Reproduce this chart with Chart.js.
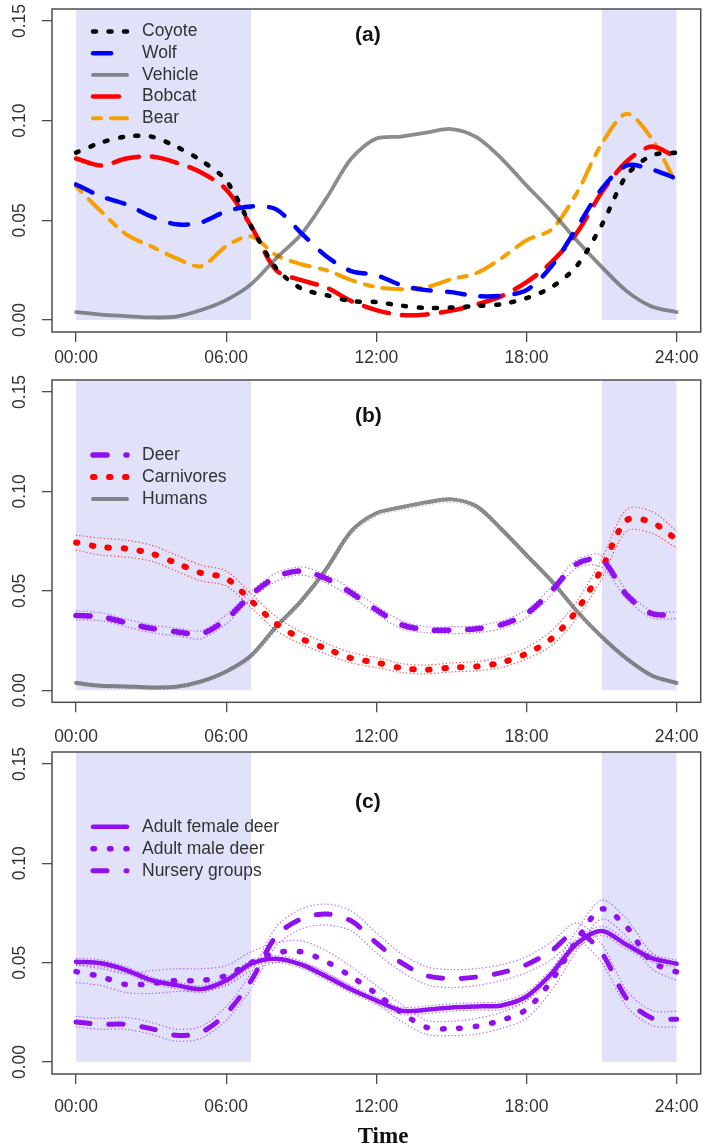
<!DOCTYPE html>
<html>
<head>
<meta charset="utf-8">
<script src="https://cdn.jsdelivr.net/npm/chart.js@4.4.1/dist/chart.umd.min.js"></script>
<style>
  body { margin: 0; background: #fff; width: 709px; height: 1146px; overflow: hidden; position: relative; }
  canvas { position: absolute; left: 0; }
</style>
</head>
<body>
<canvas id="panelA" width="709" height="372" style="top:0px"></canvas>
<canvas id="panelB" width="709" height="372" style="top:371px"></canvas>
<canvas id="panelC" width="709" height="403" style="top:743px"></canvas>
<script>
// ---- axes ----
const HOURS = [0, 1, 2, 3, 4, 5, 6, 7, 8, 9, 10, 11, 12, 13, 14, 15, 16, 17, 18, 19, 20, 21, 22, 23, 24];
const X_TICKS = [0, 6, 12, 18, 24];
const X_TICK_LABELS = ['00:00', '06:00', '12:00', '18:00', '24:00'];
const Y_TICKS = [0, 0.05, 0.10, 0.15];
const Y_TICK_LABELS = ['0.00', '0.05', '0.10', '0.15'];
const X_MIN = -0.96, X_MAX = 24.96;
const Y_MIN = -0.006, Y_MAX = 0.156;

// night (shaded) periods, hours
const NIGHT_START = [0, 21];
const NIGHT_END = [7, 24];

// ---- (a) species + vehicles ----
const COYOTE  = [0.084, 0.089, 0.092, 0.092, 0.087, 0.080, 0.070, 0.047, 0.026, 0.0158, 0.0125, 0.0095, 0.009, 0.0072, 0.006, 0.0063, 0.007, 0.008, 0.011, 0.0165, 0.027, 0.0475, 0.0725, 0.0825, 0.084];
const WOLF    = [0.068, 0.062, 0.058, 0.052, 0.048, 0.049, 0.0545, 0.057, 0.0555, 0.0436, 0.032, 0.0245, 0.0225, 0.0175, 0.015, 0.014, 0.012, 0.0122, 0.015, 0.027, 0.046, 0.0657, 0.0775, 0.0755, 0.071];
const VEHICLE = [0.004, 0.0027, 0.002, 0.0013, 0.0017, 0.005, 0.010, 0.018, 0.031, 0.043, 0.061, 0.081, 0.091, 0.092, 0.094, 0.0958, 0.0917, 0.081, 0.0675, 0.0545, 0.040, 0.0267, 0.0145, 0.0068, 0.004];
const BOBCAT  = [0.081, 0.0775, 0.081, 0.082, 0.079, 0.074, 0.0655, 0.047, 0.025, 0.020, 0.0163, 0.0095, 0.005, 0.0025, 0.0028, 0.0047, 0.0078, 0.012, 0.019, 0.029, 0.0435, 0.064, 0.0795, 0.087, 0.0815];
const BEAR    = [0.067, 0.0545, 0.043, 0.037, 0.031, 0.027, 0.037, 0.042, 0.0325, 0.028, 0.025, 0.020, 0.0165, 0.0155, 0.0165, 0.0205, 0.0235, 0.031, 0.040, 0.0455, 0.0635, 0.0883, 0.1035, 0.091, 0.068];

// ---- (b) deer / carnivores / humans with CI ----
const DEER       = [0.0376, 0.037, 0.034, 0.0312, 0.0295, 0.0284, 0.0357, 0.048, 0.057, 0.060, 0.0562, 0.049, 0.0405, 0.033, 0.0305, 0.0302, 0.031, 0.033, 0.0385, 0.050, 0.0635, 0.0655, 0.048, 0.0386, 0.038];
const DEER_HI    = [0.040, 0.039, 0.0358, 0.033, 0.0313, 0.030, 0.038, 0.050, 0.059, 0.062, 0.058, 0.051, 0.0425, 0.035, 0.032, 0.032, 0.0325, 0.035, 0.0405, 0.052, 0.0655, 0.068, 0.050, 0.040, 0.0395];
const DEER_LO    = [0.0355, 0.035, 0.032, 0.029, 0.0275, 0.026, 0.0335, 0.046, 0.0548, 0.058, 0.054, 0.047, 0.0385, 0.031, 0.029, 0.0285, 0.029, 0.031, 0.0365, 0.048, 0.0615, 0.062, 0.046, 0.0365, 0.036];
const CARNIVORES = [0.0743, 0.072, 0.0713, 0.0688, 0.064, 0.059, 0.0563, 0.045, 0.0335, 0.026, 0.021, 0.0162, 0.014, 0.0112, 0.0104, 0.0115, 0.012, 0.014, 0.0185, 0.026, 0.040, 0.061, 0.0855, 0.0845, 0.0758];
const CARN_HI    = [0.078, 0.0765, 0.0755, 0.073, 0.068, 0.063, 0.060, 0.0485, 0.037, 0.0293, 0.0237, 0.019, 0.0165, 0.0135, 0.0127, 0.0138, 0.0145, 0.0167, 0.0215, 0.030, 0.0445, 0.066, 0.091, 0.090, 0.080];
const CARN_LO    = [0.0705, 0.068, 0.067, 0.065, 0.060, 0.055, 0.0525, 0.0415, 0.030, 0.0232, 0.0182, 0.0138, 0.0115, 0.009, 0.0083, 0.0093, 0.0098, 0.0115, 0.0158, 0.0225, 0.036, 0.056, 0.080, 0.079, 0.0715];
const HUMANS     = [0.0037, 0.0023, 0.002, 0.0015, 0.0018, 0.0045, 0.0095, 0.0175, 0.032, 0.045, 0.061, 0.080, 0.089, 0.092, 0.0945, 0.096, 0.0925, 0.081, 0.068, 0.055, 0.040, 0.027, 0.016, 0.0075, 0.0037];
const HUMANS_HI  = [0.0043, 0.0029, 0.0026, 0.0021, 0.0024, 0.0051, 0.0101, 0.0182, 0.0328, 0.0458, 0.0618, 0.0808, 0.0898, 0.0928, 0.0953, 0.0968, 0.0933, 0.0818, 0.0688, 0.0558, 0.0408, 0.0278, 0.0168, 0.0081, 0.0043];
const HUMANS_LO  = [0.0027, 0.0013, 0.001, 0.0005, 0.0008, 0.0033, 0.0083, 0.016, 0.0302, 0.0435, 0.0595, 0.0785, 0.0875, 0.0905, 0.093, 0.0945, 0.0912, 0.0798, 0.0668, 0.0538, 0.0388, 0.0258, 0.0148, 0.0065, 0.0027];

// ---- (c) deer groups with CI ----
const FEMALE     = [0.0505, 0.0497, 0.0463, 0.0412, 0.0387, 0.0367, 0.041, 0.0495, 0.052, 0.049, 0.043, 0.0365, 0.031, 0.0258, 0.0263, 0.0275, 0.028, 0.0285, 0.033, 0.0445, 0.0595, 0.066, 0.059, 0.0523, 0.0495];
const FEMALE_HI  = [0.0522, 0.0514, 0.048, 0.0429, 0.0404, 0.0384, 0.0428, 0.0513, 0.0538, 0.0508, 0.0448, 0.0383, 0.0328, 0.0276, 0.0282, 0.0294, 0.0299, 0.0305, 0.0352, 0.0468, 0.0618, 0.0683, 0.0612, 0.0542, 0.0513];
const FEMALE_LO  = [0.0488, 0.048, 0.0446, 0.0395, 0.037, 0.035, 0.0392, 0.0477, 0.0502, 0.0472, 0.0412, 0.0347, 0.0292, 0.024, 0.0244, 0.0256, 0.0261, 0.0265, 0.0308, 0.0422, 0.0572, 0.0637, 0.0568, 0.0504, 0.0477];
const MALE       = [0.0455, 0.043, 0.039, 0.0395, 0.041, 0.041, 0.0435, 0.050, 0.055, 0.0555, 0.0505, 0.043, 0.0344, 0.025, 0.0175, 0.0168, 0.018, 0.021, 0.0265, 0.041, 0.061, 0.077, 0.068, 0.0505, 0.0453];
const MALE_HI    = [0.049, 0.047, 0.0445, 0.046, 0.047, 0.047, 0.0485, 0.0555, 0.060, 0.061, 0.056, 0.048, 0.0385, 0.029, 0.021, 0.0205, 0.022, 0.025, 0.031, 0.046, 0.066, 0.0815, 0.072, 0.055, 0.049];
const MALE_LO    = [0.040, 0.0385, 0.035, 0.0345, 0.0355, 0.036, 0.0385, 0.046, 0.050, 0.050, 0.045, 0.038, 0.0295, 0.0205, 0.014, 0.0133, 0.014, 0.017, 0.022, 0.036, 0.056, 0.072, 0.063, 0.047, 0.041];
const NURSERY    = [0.0202, 0.019, 0.019, 0.0168, 0.0135, 0.015, 0.0244, 0.041, 0.0635, 0.072, 0.0745, 0.071, 0.060, 0.050, 0.0435, 0.042, 0.0428, 0.045, 0.049, 0.056, 0.0655, 0.055, 0.032, 0.0222, 0.0215];
const NURSERY_HI = [0.023, 0.022, 0.0225, 0.020, 0.0165, 0.018, 0.028, 0.045, 0.068, 0.077, 0.0795, 0.076, 0.065, 0.0545, 0.048, 0.0465, 0.047, 0.049, 0.053, 0.0605, 0.070, 0.0595, 0.036, 0.026, 0.0255];
const NURSERY_LO = [0.0176, 0.0165, 0.0165, 0.014, 0.0105, 0.012, 0.021, 0.037, 0.0585, 0.067, 0.069, 0.066, 0.055, 0.0455, 0.039, 0.0375, 0.0385, 0.041, 0.045, 0.0515, 0.061, 0.050, 0.028, 0.0185, 0.0175];

// ---- styles ----
const FRAME = '#4d4d4d';
const TEXT = '#333';
const SHADE = '#e1e1fa';
const PURPLE = '#9010f0';
const CI_PURPLE = 'rgba(150,40,255,0.7)';
const GRAY = 'rgba(78,78,78,0.65)';
const SANS = '"Liberation Sans", Arial, sans-serif';

Chart.defaults.font.family = SANS;
Chart.defaults.color = TEXT;

function series(label, values, color, width, dash) {
  return {
    label: label,
    inLegend: true,
    data: HOURS.map((h, i) => ({ x: h, y: values[i] })),
    borderColor: color,
    borderWidth: width,
    borderDash: dash,
    borderCapStyle: 'round',
    pointRadius: 0,
    fill: false,
    tension: 0.3
  };
}

function ciLine(values, color) {
  return {
    inLegend: false,
    data: HOURS.map((h, i) => ({ x: h, y: values[i] })),
    borderColor: color,
    borderWidth: 1.2,
    borderDash: [1.3, 2.2],
    pointRadius: 0,
    fill: false,
    tension: 0.3,
    order: 1
  };
}

function nightBands() {
  return NIGHT_START.map((s, i) => ({
    inLegend: false,
    data: [{ x: s, y: Y_MAX }, { x: NIGHT_END[i], y: Y_MAX }],
    borderColor: 'rgba(0,0,0,0)',
    backgroundColor: SHADE,
    pointRadius: 0,
    fill: { value: 0 },
    order: 10
  }));
}

// frame, legend, panel tag and x title drawn in the R style
const rDecor = {
  id: 'rDecor',
  afterDatasetsDraw(chart, args, o) {
    const ctx = chart.ctx;
    const a = chart.chartArea;
    ctx.save();
    ctx.setLineDash([]);
    ctx.strokeStyle = FRAME;
    ctx.lineWidth = 1.5;
    ctx.strokeRect(a.left, a.top, a.right - a.left, a.bottom - a.top);

    chart.data.datasets.filter(d => d.inLegend).forEach((d, i) => {
      const y = o.y0 + i * o.dy;
      ctx.beginPath();
      ctx.setLineDash(d.borderDash || []);
      ctx.lineCap = 'round';
      ctx.lineWidth = d.borderWidth;
      ctx.strokeStyle = d.borderColor;
      ctx.moveTo(93, y);
      ctx.lineTo(127, y);
      ctx.stroke();
      ctx.setLineDash([]);
      ctx.fillStyle = TEXT;
      ctx.font = '17.5px ' + SANS;
      ctx.textBaseline = 'middle';
      ctx.textAlign = 'left';
      ctx.fillText(d.label, 142, y);
    });

    ctx.fillStyle = '#111';
    ctx.font = 'bold 21px ' + SANS;
    ctx.textBaseline = 'middle';
    ctx.fillText(o.tag, 355, o.tagY);

    if (o.xTitle) {
      ctx.font = 'bold 23px "Liberation Serif", "Times New Roman", serif';
      ctx.textBaseline = 'alphabetic';
      ctx.textAlign = 'center';
      ctx.fillText(o.xTitle, 383, o.xTitleY);
    }
    ctx.restore();
  }
};

function scales(xHeight, xPad) {
  return {
    x: {
      type: 'linear', min: X_MIN, max: X_MAX,
      afterBuildTicks: s => { s.ticks = X_TICKS.map(v => ({ value: v })); },
      afterFit: s => { s.height = xHeight; s.paddingLeft = 0; s.paddingRight = 0; },
      ticks: {
        callback: (v, i) => X_TICK_LABELS[i],
        autoSkip: false, maxRotation: 0, padding: xPad,
        color: TEXT, font: { size: 17.5 }
      },
      grid: { drawOnChartArea: false, drawTicks: true, tickLength: 10, color: FRAME, lineWidth: 1.3 },
      border: { display: false }
    },
    y: {
      type: 'linear', min: Y_MIN, max: Y_MAX,
      afterBuildTicks: s => { s.ticks = Y_TICKS.map(v => ({ value: v })); },
      afterFit: s => { s.width = 52; s.paddingTop = 0; s.paddingBottom = 0; },
      ticks: {
        callback: (v, i) => Y_TICK_LABELS[i],
        minRotation: 90, maxRotation: 90, crossAlign: 'center', padding: 5,
        color: TEXT, font: { size: 17.5 }
      },
      grid: { drawOnChartArea: false, drawTicks: true, tickLength: 10, color: FRAME, lineWidth: 1.3 },
      border: { display: false }
    }
  };
}

function makePanel(id, datasets, xHeight, xPad, decor) {
  return new Chart(document.getElementById(id), {
    type: 'line',
    data: { datasets: datasets },
    options: {
      responsive: false,
      animation: false,
      devicePixelRatio: 1,
      layout: { padding: { left: 0, right: 8.3, top: 9, bottom: 0 } },
      scales: scales(xHeight, xPad),
      plugins: { legend: { display: false }, tooltip: { enabled: false }, rDecor: decor }
    },
    plugins: [rDecor]
  });
}

makePanel('panelA', [
  series('Coyote', COYOTE, '#000000', 4.5, [3, 12.5]),
  series('Wolf', WOLF, '#0000ff', 4.5, [18, 16]),
  series('Vehicle', VEHICLE, GRAY, 3.8, []),
  series('Bobcat', BOBCAT, '#ff0000', 4.5, [26, 13]),
  series('Bear', BEAR, '#f5a000', 4, [8, 10, 20, 10]),
  ...nightBands()
], 40, 5.5, { y0: 31.5, dy: 21.7, tag: '(a)', tagY: 35 });

makePanel('panelB', [
  series('Deer', DEER, PURPLE, 5.5, [14, 19]),
  series('Carnivores', CARNIVORES, '#ff0000', 6, [1.5, 14.5]),
  series('Humans', HUMANS, GRAY, 4, []),
  ciLine(DEER_HI, CI_PURPLE),
  ciLine(DEER_LO, CI_PURPLE),
  ciLine(CARN_HI, 'rgba(255,40,40,0.8)'),
  ciLine(CARN_LO, 'rgba(255,40,40,0.8)'),
  ciLine(HUMANS_HI, 'rgba(170,170,170,0.7)'),
  ciLine(HUMANS_LO, 'rgba(170,170,170,0.7)'),
  ...nightBands()
], 40.7, 13.9, { y0: 84, dy: 22, tag: '(b)', tagY: 45.7 });

makePanel('panelC', [
  series('Adult female deer', FEMALE, PURPLE, 4.5, []),
  series('Adult male deer', MALE, PURPLE, 5.5, [1.5, 15]),
  series('Nursery groups', NURSERY, PURPLE, 5, [14, 19]),
  ciLine(FEMALE_HI, CI_PURPLE),
  ciLine(FEMALE_LO, CI_PURPLE),
  ciLine(MALE_HI, CI_PURPLE),
  ciLine(MALE_LO, CI_PURPLE),
  ciLine(NURSERY_HI, CI_PURPLE),
  ciLine(NURSERY_LO, CI_PURPLE),
  ...nightBands()
], 72, 12.5, { y0: 83.7, dy: 22, tag: '(c)', tagY: 59.3, xTitle: 'Time', xTitleY: 400.3 });
</script>
</body>
</html>
